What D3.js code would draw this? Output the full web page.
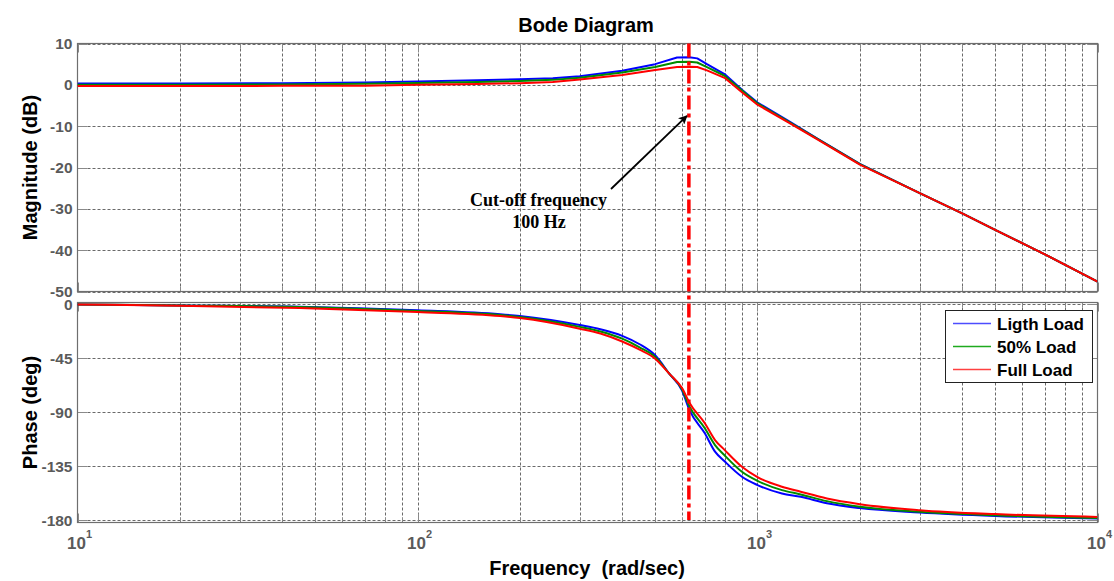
<!DOCTYPE html>
<html>
<head>
<meta charset="utf-8">
<script src="https://cdn.jsdelivr.net/npm/d3@7"></script>
<style>
  html, body { margin: 0; padding: 0; background: #fff; }
  svg { display: block; }
</style>
</head>
<body>
<svg id="chart" width="1114" height="581"></svg>
<script>
// ---- data (rad/s, dB, deg) ----
const magFreq   = [10, 20, 40, 70, 100, 150, 200, 250, 300, 400, 500, 580, 630, 665, 710, 800, 900, 1000, 1250, 1500, 2000, 3000, 4000, 5000, 7000, 10000];
const magLight  = [0.35, 0.35, 0.4, 0.55, 0.8, 1.1, 1.35, 1.6, 2.1, 3.4, 5.0, 6.6, 6.7, 6.4, 5.0, 2.6, -1.2, -4.3, -9.0, -13.0, -19.1, -26.2, -31.1, -35.1, -41.0, -47.6];
const magHalf   = [0.05, 0.05, 0.1, 0.25, 0.45, 0.7, 0.95, 1.2, 1.7, 3.0, 4.3, 5.5, 5.6, 5.4, 4.3, 2.2, -1.4, -4.5, -9.2, -13.1, -19.2, -26.2, -31.1, -35.1, -41.0, -47.6];
const magFull   = [-0.3, -0.3, -0.25, -0.2, 0.0, 0.2, 0.4, 0.7, 1.3, 2.4, 3.6, 4.3, 4.4, 4.3, 3.5, 1.7, -1.8, -4.8, -9.4, -13.2, -19.3, -26.2, -31.1, -35.1, -41.0, -47.6];

const phaseFreq  = [10, 20, 45, 100, 175, 200, 300, 345, 400, 450, 500, 550, 600, 630, 700, 750, 800, 900, 1000, 1180, 1340, 1600, 2000, 3000, 5000, 10000];
const phaseLight = [-0.3, -1.2, -2.2, -5.2, -8.5, -10.0, -17.5, -21.0, -26.5, -33.5, -42.7, -58, -72, -88, -107.7, -123, -131, -143.9, -150.8, -157.8, -160.6, -166, -170, -173.6, -176.5, -178.7];
const phaseHalf  = [-0.3, -1.2, -2.5, -5.8, -9.2, -10.8, -19.0, -22.8, -28.8, -36.0, -44.0, -58, -71, -85, -103.5, -117.5, -126, -139.7, -147.3, -155, -158.6, -164.2, -168.9, -173.1, -176, -178.2];
const phaseFull  = [-0.3, -1.5, -3.3, -6.7, -10.0, -11.7, -20.5, -24.5, -31.2, -38.0, -45.5, -58, -70, -82, -99.3, -113.3, -121.5, -135.6, -144.2, -152.2, -156.4, -162, -166.7, -171.7, -175, -177.4];

const seriesNames = ["Ligth Load", "50% Load", "Full Load"];
const magTicks    = [10, 0, -10, -20, -30, -40, -50];
const phaseTicks  = [0, -45, -90, -135, -180];
const decadeTicks = [10, 100, 1000, 10000];
const cutoffHz    = 100;

// ---- layout ----
const colors = ["#0000ff", "#008c00", "#ff0000"];
const legendColors = ["#4d4dff", "#1faa1f", "#ff4040"];
const left = 77.5, right = 1097.5;
const magTop = 43.5, magBottom = 291.5;
const phTop = 302.5, phBottom = 522.5;

const svg = d3.select("#chart");
const x = d3.scaleLog().domain([10, 10000]).range([left, right]);
const yMag = d3.scaleLinear().domain([-50, 10]).range([magBottom, magTop]);
const yPh  = d3.scaleLinear().domain([-182, 1.3]).range([phBottom, phTop]);

// every grid position: 1..9 x each decade
const gridFreqs = [];
for (let d = 10; d < 10000; d *= 10) for (let k = 1; k < 10; k++) gridFreqs.push(d * k);
gridFreqs.push(10000);

const sans = "'Liberation Sans', Arial, sans-serif";

function panel(y, top, bottom, ticks) {
  const g = svg.append("g");
  g.append("rect").attr("x", left).attr("y", top)
    .attr("width", right - left).attr("height", bottom - top).attr("fill", "#fff");
  // dashed grid
  g.append("g").selectAll("line").data(gridFreqs.slice(1, -1)).join("line")
    .attr("x1", d => Math.round(x(d)) + 0.5).attr("x2", d => Math.round(x(d)) + 0.5)
    .attr("y1", top).attr("y2", bottom)
    .attr("stroke", "#6a6a6a").attr("stroke-width", 1).attr("stroke-dasharray", "3,2");
  g.append("g").selectAll("line").data(ticks).join("line")
    .attr("x1", left).attr("x2", right)
    .attr("y1", d => Math.round(y(d)) + 0.5).attr("y2", d => Math.round(y(d)) + 0.5)
    .attr("stroke", "#6a6a6a").attr("stroke-width", 1).attr("stroke-dasharray", "3,2");
  // inner tick marks (box on)
  const tk = g.append("g").attr("stroke", "#8a8a8a").attr("stroke-width", 1);
  gridFreqs.forEach(f => {
    const major = decadeTicks.includes(f);
    const len = major ? 9 : 5;
    const xx = Math.round(x(f)) + 0.5;
    tk.append("line").attr("x1", xx).attr("x2", xx).attr("y1", bottom).attr("y2", bottom - len);
    tk.append("line").attr("x1", xx).attr("x2", xx).attr("y1", top).attr("y2", top + len);
  });
  ticks.forEach(t => {
    const yy = Math.round(y(t)) + 0.5;
    tk.append("line").attr("x1", left).attr("x2", left + 10).attr("y1", yy).attr("y2", yy);
    tk.append("line").attr("x1", right - 10).attr("x2", right).attr("y1", yy).attr("y2", yy);
  });
  // frame
  g.append("rect").attr("x", left).attr("y", top)
    .attr("width", right - left).attr("height", bottom - top)
    .attr("fill", "none").attr("stroke", "#6e6e6e").attr("stroke-width", 1.2);
  // y tick labels
  g.append("g").selectAll("text").data(ticks).join("text")
    .attr("x", left - 5).attr("y", d => y(d)).attr("dy", "0.36em")
    .attr("text-anchor", "end")
    .attr("font-family", sans)
    .attr("font-weight", "bold").attr("font-size", 15.5).attr("fill", "#5a5a5a")
    .text(d => d);
}

panel(yMag, magTop, magBottom, magTicks);
panel(yPh, phTop, phBottom, phaseTicks);

// curves
function curves(freqs, sets, y, top, bottom, curve) {
  const id = "clip" + Math.round(top);
  svg.append("clipPath").attr("id", id).append("rect")
    .attr("x", left).attr("y", top).attr("width", right - left).attr("height", bottom - top);
  const line = d3.line().x(d => x(d[0])).y(d => y(d[1])).curve(curve);
  const g = svg.append("g").attr("clip-path", `url(#${id})`);
  sets.forEach((vals, i) => {
    g.append("path").datum(freqs.map((f, j) => [f, vals[j]]))
      .attr("d", line).attr("fill", "none")
      .attr("stroke", colors[i]).attr("stroke-width", 2)
      .attr("stroke-linejoin", "round");
  });
}
curves(magFreq, [magLight, magHalf, magFull], yMag, magTop, magBottom, d3.curveLinear);
curves(phaseFreq, [phaseLight, phaseHalf, phaseFull], yPh, phTop, phBottom, d3.curveMonotoneX);

// cut-off marker at 100 Hz (in rad/s)
const xc = x(2 * Math.PI * cutoffHz);
svg.append("line").attr("x1", xc).attr("x2", xc)
  .attr("y1", yMag(10)).attr("y2", yPh(-180))
  .attr("stroke", "#ff0000").attr("stroke-width", 3.5)
  .attr("stroke-dasharray", "14,4,4,4");

// annotation arrow
svg.append("defs").append("marker").attr("id", "arrowHead")
  .attr("viewBox", "0 0 10 10").attr("refX", 9).attr("refY", 5)
  .attr("markerWidth", 5).attr("markerHeight", 5).attr("orient", "auto")
  .append("path").attr("d", "M0,0 L10,5 L0,10 L2.5,5 Z").attr("fill", "#000");
const arrowTipY = yMag(-7.5);
svg.append("line").attr("x1", 611).attr("y1", 189).attr("x2", xc - 2).attr("y2", arrowTipY)
  .attr("stroke", "#000").attr("stroke-width", 1.8).attr("marker-end", "url(#arrowHead)");
const ann = svg.append("text").attr("text-anchor", "middle")
  .attr("font-family", "'Liberation Serif', 'Times New Roman', serif")
  .attr("font-weight", "bold").attr("font-size", 18).attr("fill", "#000");
ann.append("tspan").attr("x", 538.5).attr("y", 206).text("Cut-off frequency");
ann.append("tspan").attr("x", 539).attr("y", 228).text(cutoffHz + " Hz");

// x tick labels 10^n
const xl = svg.append("g")
  .attr("font-family", sans)
  .attr("font-weight", "bold").attr("fill", "#5a5a5a");
decadeTicks.forEach(f => {
  const t = xl.append("text").attr("x", x(f) + 2).attr("y", 548.5).attr("text-anchor", "middle");
  t.append("tspan").attr("font-size", 17).text("10");
  t.append("tspan").attr("font-size", 11).attr("dy", -10.5).text(Math.round(Math.log10(f)));
});

// titles
svg.append("text").attr("x", 586).attr("y", 32).attr("text-anchor", "middle")
  .attr("font-family", sans).attr("font-weight", "bold").attr("font-size", 20)
  .text("Bode Diagram");
svg.append("text").attr("x", 587).attr("y", 575).attr("text-anchor", "middle")
  .attr("font-family", sans).attr("font-weight", "bold").attr("font-size", 20)
  .attr("xml:space", "preserve").style("white-space", "pre")
  .text("Frequency  (rad/sec)");
svg.append("text").attr("transform", `translate(37,${(magTop + magBottom) / 2}) rotate(-90)`)
  .attr("text-anchor", "middle")
  .attr("font-family", sans).attr("font-weight", "bold").attr("font-size", 20)
  .text("Magnitude (dB)");
svg.append("text").attr("transform", `translate(37,${(phTop + phBottom) / 2}) rotate(-90)`)
  .attr("text-anchor", "middle")
  .attr("font-family", sans).attr("font-weight", "bold").attr("font-size", 20)
  .text("Phase (deg)");

// legend
const lg = svg.append("g");
lg.append("rect").attr("x", 945.5).attr("y", 310.5).attr("width", 147).attr("height", 72)
  .attr("fill", "#fff").attr("stroke", "#222").attr("stroke-width", 1);
seriesNames.forEach((name, i) => {
  const yy = 323.5 + i * 23;
  lg.append("line").attr("x1", 953).attr("x2", 991).attr("y1", yy).attr("y2", yy)
    .attr("stroke", legendColors[i]).attr("stroke-width", 1.6);
  lg.append("text").attr("x", 997).attr("y", yy + 6.5)
    .attr("font-family", sans).attr("font-weight", "bold").attr("font-size", 17)
    .text(name);
});
</script>
</body>
</html>
